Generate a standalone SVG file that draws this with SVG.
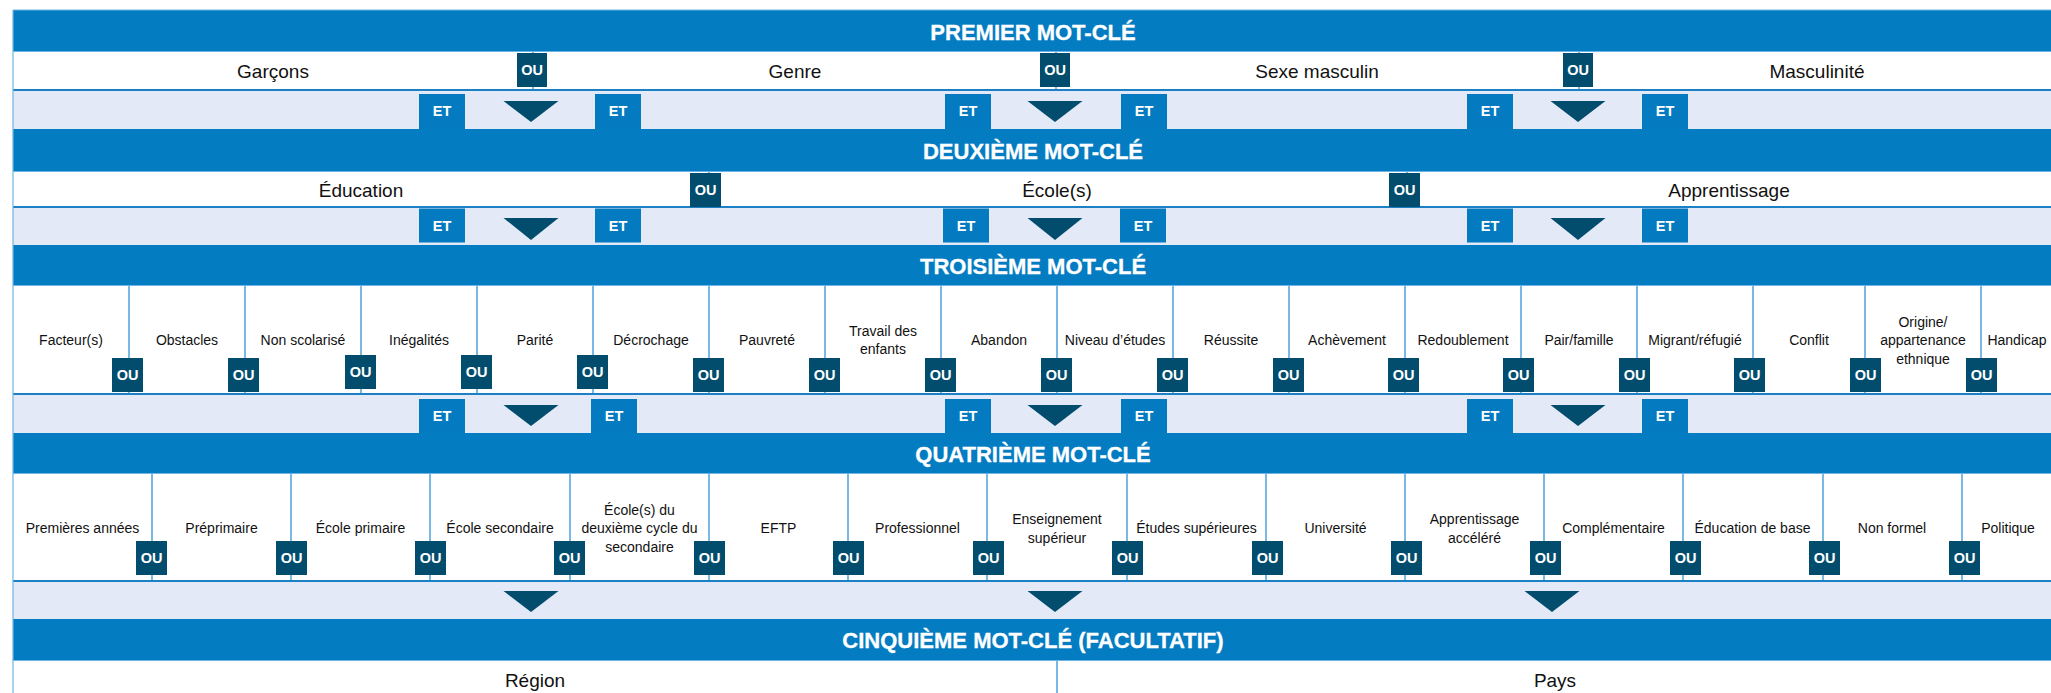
<svg xmlns="http://www.w3.org/2000/svg" width="2051" height="693" viewBox="0 0 2051 693">
<style>
.hdr{fill:#037cc2}
.lt{fill:#e3e9f6}
.wt{fill:#ffffff}
.topl{stroke:#6db5e4;stroke-width:1.2}
.botl{stroke:#1c80c4;stroke-width:2.2}
.dv{stroke:#4da3dc;stroke-width:1.5}
text{font-family:"Liberation Sans",Arial,sans-serif;text-anchor:middle}
.ht{font-weight:bold;font-size:22px;fill:#ffffff;stroke:#ffffff;stroke-width:0.3}
.lb{font-size:19px;fill:#111111}
.sm{font-size:14px;fill:#111111}
.ou{fill:#024d6e}
.et{fill:#047bc1}
.bt{font-weight:bold;font-size:14.5px;fill:#ffffff}
.arr{fill:#024d6e}
</style>
<rect x="0" y="0" width="2051" height="693" fill="#ffffff"/>
<g id="bands">
<rect class="hdr" x="13" y="10" width="2040" height="41"/>
<rect class="wt" x="13" y="51" width="2040" height="39"/>
<rect class="lt" x="13" y="90" width="2040" height="39"/>
<rect class="hdr" x="13" y="129" width="2040" height="42"/>
<rect class="wt" x="13" y="171" width="2040" height="36"/>
<rect class="lt" x="13" y="207" width="2040" height="38"/>
<rect class="hdr" x="13" y="245" width="2040" height="40"/>
<rect class="wt" x="13" y="285" width="2040" height="109"/>
<rect class="lt" x="13" y="394" width="2040" height="39"/>
<rect class="hdr" x="13" y="433" width="2040" height="40"/>
<rect class="wt" x="13" y="473" width="2040" height="108"/>
<rect class="lt" x="13" y="581" width="2040" height="38"/>
<rect class="hdr" x="13" y="619" width="2040" height="41"/>
<rect class="wt" x="13" y="660" width="2040" height="33"/>
<line class="topl" x1="13" y1="10" x2="2051" y2="10"/>
<line class="topl" x1="13" y1="51.5" x2="2051" y2="51.5"/>
<line class="topl" x1="13" y1="171.5" x2="2051" y2="171.5"/>
<line class="topl" x1="13" y1="285.5" x2="2051" y2="285.5"/>
<line class="topl" x1="13" y1="473.5" x2="2051" y2="473.5"/>
<line class="topl" x1="13" y1="660.5" x2="2051" y2="660.5"/>
<line class="botl" x1="13" y1="90" x2="2051" y2="90"/>
<line class="botl" x1="13" y1="207" x2="2051" y2="207"/>
<line class="botl" x1="13" y1="394" x2="2051" y2="394"/>
<line class="botl" x1="13" y1="581" x2="2051" y2="581"/>
<line class="topl" x1="13" y1="10" x2="13" y2="693"/>
</g>
<g id="headers">
<text class="ht" x="1033" y="39.5">PREMIER MOT-CLÉ</text>
<text class="ht" x="1033" y="158.5">DEUXIÈME MOT-CLÉ</text>
<text class="ht" x="1033" y="273.5">TROISIÈME MOT-CLÉ</text>
<text class="ht" x="1033" y="462">QUATRIÈME MOT-CLÉ</text>
<text class="ht" x="1033" y="648">CINQUIÈME MOT-CLÉ (FACULTATIF)</text>
</g>
<g id="dividers">
<line class="dv" x1="533" y1="52" x2="533" y2="89"/>
<line class="dv" x1="1056" y1="52" x2="1056" y2="89"/>
<line class="dv" x1="1579" y1="52" x2="1579" y2="89"/>
<line class="dv" x1="709" y1="172" x2="709" y2="206"/>
<line class="dv" x1="1407" y1="172" x2="1407" y2="206"/>
<line class="dv" x1="129" y1="286" x2="129" y2="393"/>
<line class="dv" x1="245" y1="286" x2="245" y2="393"/>
<line class="dv" x1="361" y1="286" x2="361" y2="393"/>
<line class="dv" x1="477" y1="286" x2="477" y2="393"/>
<line class="dv" x1="593" y1="286" x2="593" y2="393"/>
<line class="dv" x1="709" y1="286" x2="709" y2="393"/>
<line class="dv" x1="825" y1="286" x2="825" y2="393"/>
<line class="dv" x1="941" y1="286" x2="941" y2="393"/>
<line class="dv" x1="1057" y1="286" x2="1057" y2="393"/>
<line class="dv" x1="1173" y1="286" x2="1173" y2="393"/>
<line class="dv" x1="1289" y1="286" x2="1289" y2="393"/>
<line class="dv" x1="1405" y1="286" x2="1405" y2="393"/>
<line class="dv" x1="1521" y1="286" x2="1521" y2="393"/>
<line class="dv" x1="1637" y1="286" x2="1637" y2="393"/>
<line class="dv" x1="1753" y1="286" x2="1753" y2="393"/>
<line class="dv" x1="1865" y1="286" x2="1865" y2="393"/>
<line class="dv" x1="1981" y1="286" x2="1981" y2="393"/>
<line class="dv" x1="152" y1="474" x2="152" y2="580"/>
<line class="dv" x1="291" y1="474" x2="291" y2="580"/>
<line class="dv" x1="430" y1="474" x2="430" y2="580"/>
<line class="dv" x1="570" y1="474" x2="570" y2="580"/>
<line class="dv" x1="709" y1="474" x2="709" y2="580"/>
<line class="dv" x1="848" y1="474" x2="848" y2="580"/>
<line class="dv" x1="987" y1="474" x2="987" y2="580"/>
<line class="dv" x1="1127" y1="474" x2="1127" y2="580"/>
<line class="dv" x1="1266" y1="474" x2="1266" y2="580"/>
<line class="dv" x1="1405" y1="474" x2="1405" y2="580"/>
<line class="dv" x1="1544" y1="474" x2="1544" y2="580"/>
<line class="dv" x1="1683" y1="474" x2="1683" y2="580"/>
<line class="dv" x1="1823" y1="474" x2="1823" y2="580"/>
<line class="dv" x1="1962" y1="474" x2="1962" y2="580"/>
<line class="dv" x1="1057" y1="661" x2="1057" y2="693"/>
</g>
<g id="kw1">
<g id="garcons"><text class="lb" x="273" y="78">Garçons</text></g>
<g id="genre"><text class="lb" x="795" y="78">Genre</text></g>
<g id="sexe-masculin"><text class="lb" x="1317" y="78">Sexe masculin</text></g>
<g id="masculinite"><text class="lb" x="1817" y="78">Masculinité</text></g>
</g>
<g id="kw2">
<g id="education"><text class="lb" x="361" y="197">Éducation</text></g>
<g id="ecoles"><text class="lb" x="1057" y="197">École(s)</text></g>
<g id="apprentissage"><text class="lb" x="1729" y="197">Apprentissage</text></g>
</g>
<g id="kw3">
<g id="facteurs"><text class="sm" x="71" y="345">Facteur(s)</text></g>
<g id="obstacles"><text class="sm" x="187" y="345">Obstacles</text></g>
<g id="non-scolarise"><text class="sm" x="303" y="345">Non scolarisé</text></g>
<g id="inegalites"><text class="sm" x="419" y="345">Inégalités</text></g>
<g id="parite"><text class="sm" x="535" y="345">Parité</text></g>
<g id="decrochage"><text class="sm" x="651" y="345">Décrochage</text></g>
<g id="pauvrete"><text class="sm" x="767" y="345">Pauvreté</text></g>
<g id="travail-enfants"><text class="sm" x="883" y="336">Travail des</text><text class="sm" x="883" y="354">enfants</text></g>
<g id="abandon"><text class="sm" x="999" y="345">Abandon</text></g>
<g id="niveau-etudes"><text class="sm" x="1115" y="345">Niveau d’études</text></g>
<g id="reussite"><text class="sm" x="1231" y="345">Réussite</text></g>
<g id="achevement"><text class="sm" x="1347" y="345">Achèvement</text></g>
<g id="redoublement"><text class="sm" x="1463" y="345">Redoublement</text></g>
<g id="pair-famille"><text class="sm" x="1579" y="345">Pair/famille</text></g>
<g id="migrant-refugie"><text class="sm" x="1695" y="345">Migrant/réfugié</text></g>
<g id="conflit"><text class="sm" x="1809" y="345">Conflit</text></g>
<g id="origine"><text class="sm" x="1923" y="327">Origine/</text><text class="sm" x="1923" y="345">appartenance</text><text class="sm" x="1923" y="364">ethnique</text></g>
<g id="handicap"><text class="sm" x="2017" y="345">Handicap</text></g>
</g>
<g id="kw4">
<g id="premieres-annees"><text class="sm" x="82.5" y="533">Premières années</text></g>
<g id="preprimaire"><text class="sm" x="221.5" y="533">Préprimaire</text></g>
<g id="ecole-primaire"><text class="sm" x="360.5" y="533">École primaire</text></g>
<g id="ecole-secondaire"><text class="sm" x="500" y="533">École secondaire</text></g>
<g id="deuxieme-cycle"><text class="sm" x="639.5" y="515">École(s) du</text><text class="sm" x="639.5" y="533">deuxième cycle du</text><text class="sm" x="639.5" y="552">secondaire</text></g>
<g id="eftp"><text class="sm" x="778.5" y="533">EFTP</text></g>
<g id="professionnel"><text class="sm" x="917.5" y="533">Professionnel</text></g>
<g id="enseignement-superieur"><text class="sm" x="1057" y="524">Enseignement</text><text class="sm" x="1057" y="543">supérieur</text></g>
<g id="etudes-superieures"><text class="sm" x="1196.5" y="533">Études supérieures</text></g>
<g id="universite"><text class="sm" x="1335.5" y="533">Université</text></g>
<g id="apprentissage-accelere"><text class="sm" x="1474.5" y="524">Apprentissage</text><text class="sm" x="1474.5" y="543">accéléré</text></g>
<g id="complementaire"><text class="sm" x="1613.5" y="533">Complémentaire</text></g>
<g id="education-base"><text class="sm" x="1752.5" y="533">Éducation de base</text></g>
<g id="non-formel"><text class="sm" x="1892" y="533">Non formel</text></g>
<g id="politique"><text class="sm" x="2008" y="533">Politique</text></g>
</g>
<g id="kw5">
<g id="region"><text class="lb" x="535" y="687">Région</text></g>
<g id="pays"><text class="lb" x="1555" y="687">Pays</text></g>
</g>
<g id="ou-operators">
<rect class="ou" x="517" y="53" width="30" height="34"/><text class="bt" x="532" y="75">OU</text>
<rect class="ou" x="1040" y="53" width="30" height="34"/><text class="bt" x="1055" y="75">OU</text>
<rect class="ou" x="1563" y="53" width="30" height="34"/><text class="bt" x="1578" y="75">OU</text>
<rect class="ou" x="690" y="173" width="31" height="34"/><text class="bt" x="705.5" y="195">OU</text>
<rect class="ou" x="1389" y="173" width="31" height="34"/><text class="bt" x="1404.5" y="195">OU</text>
<rect class="ou" x="112" y="358" width="31" height="34"/><text class="bt" x="127.5" y="380">OU</text>
<rect class="ou" x="228" y="358" width="31" height="34"/><text class="bt" x="243.5" y="380">OU</text>
<rect class="ou" x="345" y="355" width="31" height="34"/><text class="bt" x="360.5" y="377">OU</text>
<rect class="ou" x="461" y="355" width="31" height="34"/><text class="bt" x="476.5" y="377">OU</text>
<rect class="ou" x="577" y="355" width="31" height="34"/><text class="bt" x="592.5" y="377">OU</text>
<rect class="ou" x="693" y="358" width="31" height="34"/><text class="bt" x="708.5" y="380">OU</text>
<rect class="ou" x="809" y="358" width="31" height="34"/><text class="bt" x="824.5" y="380">OU</text>
<rect class="ou" x="925" y="358" width="31" height="34"/><text class="bt" x="940.5" y="380">OU</text>
<rect class="ou" x="1041" y="358" width="31" height="34"/><text class="bt" x="1056.5" y="380">OU</text>
<rect class="ou" x="1157" y="358" width="31" height="34"/><text class="bt" x="1172.5" y="380">OU</text>
<rect class="ou" x="1273" y="358" width="31" height="34"/><text class="bt" x="1288.5" y="380">OU</text>
<rect class="ou" x="1388" y="358" width="31" height="34"/><text class="bt" x="1403.5" y="380">OU</text>
<rect class="ou" x="1503" y="358" width="31" height="34"/><text class="bt" x="1518.5" y="380">OU</text>
<rect class="ou" x="1619" y="358" width="31" height="34"/><text class="bt" x="1634.5" y="380">OU</text>
<rect class="ou" x="1734" y="358" width="31" height="34"/><text class="bt" x="1749.5" y="380">OU</text>
<rect class="ou" x="1850" y="358" width="31" height="34"/><text class="bt" x="1865.5" y="380">OU</text>
<rect class="ou" x="1966" y="358" width="31" height="34"/><text class="bt" x="1981.5" y="380">OU</text>
<rect class="ou" x="136" y="541" width="31" height="34"/><text class="bt" x="151.5" y="563">OU</text>
<rect class="ou" x="276" y="541" width="31" height="34"/><text class="bt" x="291.5" y="563">OU</text>
<rect class="ou" x="415" y="541" width="31" height="34"/><text class="bt" x="430.5" y="563">OU</text>
<rect class="ou" x="554" y="541" width="31" height="34"/><text class="bt" x="569.5" y="563">OU</text>
<rect class="ou" x="694" y="541" width="31" height="34"/><text class="bt" x="709.5" y="563">OU</text>
<rect class="ou" x="833" y="541" width="31" height="34"/><text class="bt" x="848.5" y="563">OU</text>
<rect class="ou" x="973" y="541" width="31" height="34"/><text class="bt" x="988.5" y="563">OU</text>
<rect class="ou" x="1112" y="541" width="31" height="34"/><text class="bt" x="1127.5" y="563">OU</text>
<rect class="ou" x="1252" y="541" width="31" height="34"/><text class="bt" x="1267.5" y="563">OU</text>
<rect class="ou" x="1391" y="541" width="31" height="34"/><text class="bt" x="1406.5" y="563">OU</text>
<rect class="ou" x="1530" y="541" width="31" height="34"/><text class="bt" x="1545.5" y="563">OU</text>
<rect class="ou" x="1670" y="541" width="31" height="34"/><text class="bt" x="1685.5" y="563">OU</text>
<rect class="ou" x="1809" y="541" width="31" height="34"/><text class="bt" x="1824.5" y="563">OU</text>
<rect class="ou" x="1949" y="541" width="31" height="34"/><text class="bt" x="1964.5" y="563">OU</text>
</g>
<g id="connectors">
<g id="step1">
<rect class="et" x="419" y="94" width="46" height="35"/><text class="bt" x="442" y="116">ET</text>
<polygon class="arr" points="503.5,101 558.5,101 531,122"/>
<rect class="et" x="595" y="94" width="46" height="35"/><text class="bt" x="618" y="116">ET</text>
<rect class="et" x="945" y="94" width="46" height="35"/><text class="bt" x="968" y="116">ET</text>
<polygon class="arr" points="1027.5,101 1082.5,101 1055,122"/>
<rect class="et" x="1121" y="94" width="46" height="35"/><text class="bt" x="1144" y="116">ET</text>
<rect class="et" x="1467" y="94" width="46" height="35"/><text class="bt" x="1490" y="116">ET</text>
<polygon class="arr" points="1550.5,101 1605.5,101 1578,122"/>
<rect class="et" x="1642" y="94" width="46" height="35"/><text class="bt" x="1665" y="116">ET</text>
</g>
<g id="step2">
<rect class="et" x="419" y="208.5" width="46" height="34"/><text class="bt" x="442" y="230.5">ET</text>
<polygon class="arr" points="503.5,218 558.5,218 531,240"/>
<rect class="et" x="595" y="208.5" width="46" height="34"/><text class="bt" x="618" y="230.5">ET</text>
<rect class="et" x="943" y="208.5" width="46" height="34"/><text class="bt" x="966" y="230.5">ET</text>
<polygon class="arr" points="1027.5,218 1082.5,218 1055,240"/>
<rect class="et" x="1120" y="208.5" width="46" height="34"/><text class="bt" x="1143" y="230.5">ET</text>
<rect class="et" x="1467" y="208.5" width="46" height="34"/><text class="bt" x="1490" y="230.5">ET</text>
<polygon class="arr" points="1550.5,218 1605.5,218 1578,240"/>
<rect class="et" x="1642" y="208.5" width="46" height="34"/><text class="bt" x="1665" y="230.5">ET</text>
</g>
<g id="step3">
<rect class="et" x="419" y="399" width="46" height="34"/><text class="bt" x="442" y="421">ET</text>
<polygon class="arr" points="503.5,405 558.5,405 531,426"/>
<rect class="et" x="591" y="399" width="46" height="34"/><text class="bt" x="614" y="421">ET</text>
<rect class="et" x="945" y="399" width="46" height="34"/><text class="bt" x="968" y="421">ET</text>
<polygon class="arr" points="1027.5,405 1082.5,405 1055,426"/>
<rect class="et" x="1121" y="399" width="46" height="34"/><text class="bt" x="1144" y="421">ET</text>
<rect class="et" x="1467" y="399" width="46" height="34"/><text class="bt" x="1490" y="421">ET</text>
<polygon class="arr" points="1550.5,405 1605.5,405 1578,426"/>
<rect class="et" x="1642" y="399" width="46" height="34"/><text class="bt" x="1665" y="421">ET</text>
</g>
<g id="step4">
<polygon class="arr" points="503.5,591 558.5,591 531,612"/>
<polygon class="arr" points="1027.5,591 1082.5,591 1055,612"/>
<polygon class="arr" points="1524.5,591 1579.5,591 1552,612"/>
</g>
</g>
</svg>
